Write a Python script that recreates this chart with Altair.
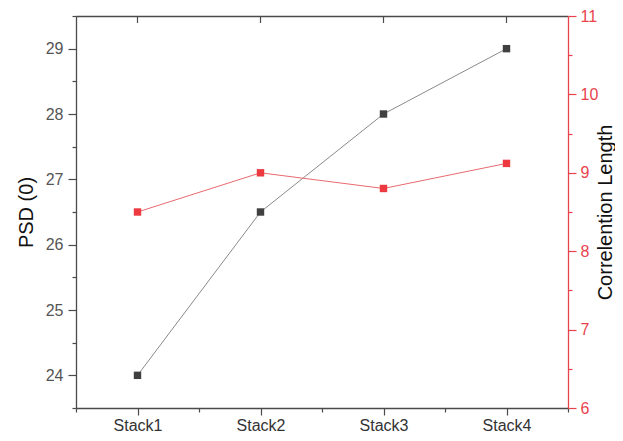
import altair as alt
import pandas as pd

categories = ["Stack1", "Stack2", "Stack3", "Stack4"]
psd_values = [24.0, 26.5, 28.0, 29.0]
corr_values = [8.5, 9.0, 8.8, 9.12]

left_ticks = [23.5, 24, 24.5, 25, 25.5, 26, 26.5, 27, 27.5, 28, 28.5, 29, 29.5]
right_ticks = [6, 6.5, 7, 7.5, 8, 8.5, 9, 9.5, 10, 10.5, 11]
x_ticks = [0.5, 1, 1.5, 2, 2.5, 3, 3.5, 4, 4.5]

df = pd.DataFrame({
    "cat": categories,
    "idx": list(range(1, len(categories) + 1)),
    "psd": psd_values,
    "corr": corr_values,
})

FONT = "Liberation Sans"
RED = "#e8434c"
AXIS_GRAY = "#4a4a4a"

label_js = "[" + ",".join(f"'{c}'" for c in categories) + "]"
major = "datum.value % 1 === 0"
int_label = f"{major} ? format(datum.value, 'd') : ''"

x_dom = alt.Scale(domain=[0.5, len(categories) + 0.5], nice=False, zero=False)

x_bottom = alt.X(
    "idx:Q", scale=x_dom, title=None,
    axis=alt.Axis(
        orient="bottom", values=x_ticks, grid=False,
        labelExpr=f"{major} ? {label_js}[datum.value - 1] : ''",
        tickSize={"condition": {"test": major, "value": 7}, "value": 4},
        tickColor=AXIS_GRAY, domainColor=AXIS_GRAY, domainWidth=1.3, tickWidth=1.2,
        labelFont=FONT, labelFontSize=16, labelColor="#333333", labelPadding=2,
        labelFlush=False, labelOverlap=False,
    ),
)
x_none = alt.X("idx:Q", scale=x_dom, axis=None)
x_top = alt.X(
    "idx:Q", scale=x_dom, title=None,
    axis=alt.Axis(orient="top", labels=False, ticks=False, grid=False,
                  domainColor=AXIS_GRAY, domainWidth=1.3),
)

y_left_scale = alt.Scale(domain=[23.5, 29.5], nice=False, zero=False)
y_right_scale = alt.Scale(domain=[6, 11], nice=False, zero=False)

y_left = alt.Y(
    "psd:Q", scale=y_left_scale, title="PSD (0)",
    axis=alt.Axis(
        orient="left", values=left_ticks, grid=False,
        labelExpr=int_label,
        tickSize={"condition": {"test": major, "value": 8}, "value": 4},
        tickColor=AXIS_GRAY, domainColor=AXIS_GRAY, domainWidth=1.3, tickWidth=1.2,
        labelFont=FONT, labelFontSize=16, labelColor="#555555", labelPadding=5,
        labelFlush=False, labelOverlap=False,
        titleFont=FONT, titleFontSize=20, titleFontWeight="normal", titleColor="#111111",
        titlePadding=9,
    ),
)
y_left_none = alt.Y("psd:Q", scale=y_left_scale, axis=None)

y_right = alt.Y(
    "corr:Q", scale=y_right_scale, title="Correlention Length",
    axis=alt.Axis(
        orient="right", values=right_ticks, grid=False,
        labelExpr=int_label,
        tickSize={"condition": {"test": major, "value": 8}, "value": 4},
        tickColor=RED, domainColor=RED, domainWidth=1.3, tickWidth=1.2,
        labelFont=FONT, labelFontSize=16, labelColor=RED, labelPadding=4,
        labelFlush=False, labelOverlap=False,
        titleFont=FONT, titleFontSize=20, titleFontWeight="normal", titleColor="#111111",
        titleAngle=270, titleBaseline="top", titlePadding=-2,
    ),
)
y_right_none = alt.Y("corr:Q", scale=y_right_scale, axis=None)

base = alt.Chart(df)

black_line = base.mark_line(color="#8a8a8a", strokeWidth=1).encode(x=x_bottom, y=y_left)
black_pts = base.mark_point(shape="square", filled=True, size=55, color="#404040", opacity=1).encode(x=x_none, y=y_left_none)
red_line = base.mark_line(color="#e86a6e", strokeWidth=1).encode(x=x_none, y=y_right)
red_pts = base.mark_point(shape="square", filled=True, size=55, color="#ec3a40", opacity=1).encode(x=x_none, y=y_right_none)
top_ticks = base.mark_rule(color=AXIS_GRAY, strokeWidth=1.2).encode(
    x=x_top, y=alt.value(0), y2=alt.value(7)
)

chart = alt.layer(black_line, black_pts, red_line, red_pts, top_ticks).resolve_scale(
    y="independent"
).resolve_axis(x="independent", y="independent").properties(
    width=492, height=392,
    autosize=alt.AutoSizeParams(type="none"),
    padding={"left": 68, "top": 8, "right": 47, "bottom": 25},
).configure_view(stroke=None)

chart.save("out.html", embed_options={"renderer": "svg", "actions": False})
